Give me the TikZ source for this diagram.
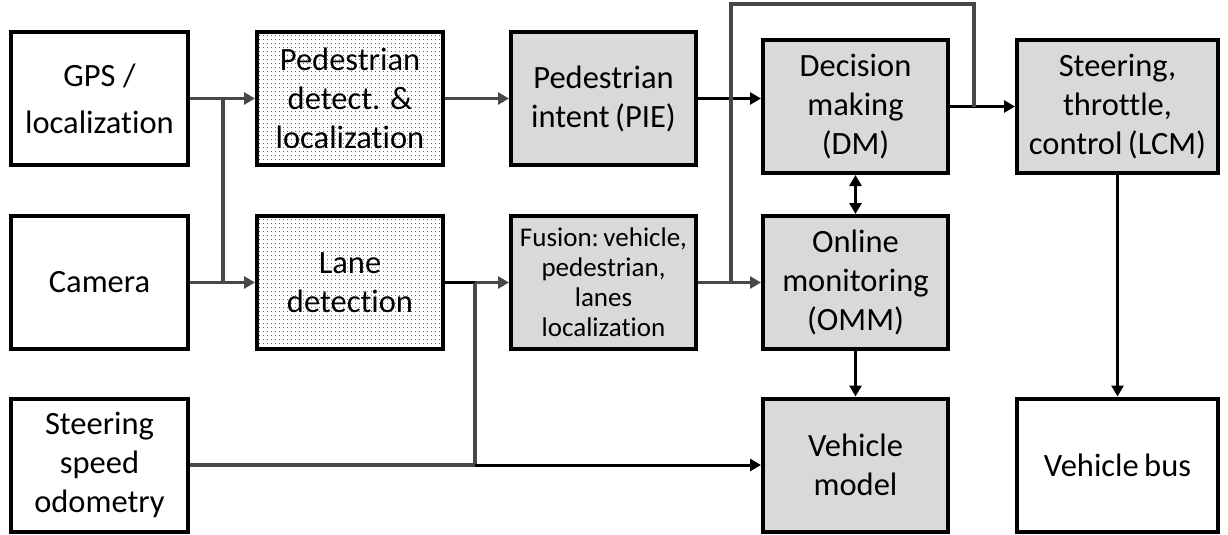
\documentclass[tikz,border=0pt]{standalone}
\usepackage{fontspec}
\setmainfont[Ligatures={NoCommon,NoContextual}]{Carlito}
\usetikzlibrary{arrows.meta,patterns.meta}
\definecolor{boxfill}{RGB}{217,217,217}
\definecolor{linegray}{RGB}{72,72,72}
\begin{document}
\begin{tikzpicture}[x=1pt,y=-1pt,
  blk/.style={draw=black, line width=4pt, align=center, inner sep=0pt,
     font=\fontsize{32.5}{39}\selectfont, text=black, minimum height=133pt},
  whitebox/.style={blk, fill=white},
  graybox/.style={blk, fill=boxfill},
  dotbox/.style={blk, pattern={Dots[distance=4pt,radius=0.6pt]}, pattern color=black!80},
  tip/.style={-{Triangle[length=11pt,width=12pt]}},
  glink/.style={draw=linegray, line width=3.2pt},
  blink/.style={draw=black, line width=3pt},
]
\useasboundingbox (0,0) rectangle (1228,535);

% column 1
\node[whitebox, minimum width=177pt, font=\fontsize{32.5}{47}\selectfont] (gps) at (99.5,98.5) {GPS /\\localization};
\node[whitebox, minimum width=177pt] (cam) at (99.5,282.5) {Camera};
\node[whitebox, minimum width=177pt] (steer) at (99.5,465) {Steering\\speed\\odometry};
% column 2
\node[dotbox, minimum width=186pt] (ped) at (350,98.5) {Pedestrian\\detect. \&\\localization};
\node[dotbox, minimum width=186pt] (lane) at (350,282.5) {Lane\\detection};
% column 3
\node[graybox, minimum width=185pt] (pie) at (603.5,98.5) {Pedestrian\\intent\,(PIE)};
\node[graybox, minimum width=185pt, font=\fontsize{27}{30}\selectfont] (fus) at (603.5,282.5) {Fusion:\,vehicle,\\pedestrian,\\lanes\\localization};
% column 4
\node[graybox, minimum width=185pt] (dm) at (855.5,106.5) {Decision\\making\\(DM)};
\node[graybox, minimum width=185pt] (omm) at (855.5,282.5) {Online\\monitoring\\(OMM)};
\node[graybox, minimum width=185pt] (vm) at (855.5,465) {Vehicle\\model};
% column 5
\node[graybox, minimum width=201pt] (lcm) at (1117.5,106.5) {Steering,\\throttle,\\control\,(LCM)};
\node[whitebox, minimum width=201pt] (bus) at (1117.5,465) {Vehicle\,bus};

% junction points
\coordinate (j1) at (223,98.5);
\coordinate (j2) at (223,282.5);
\coordinate (j3) at (475,282.5);
\coordinate (j4) at (475,465);
\coordinate (f1) at (974,106.5);
\coordinate (f2) at (974,4);
\coordinate (f3) at (731,4);
\coordinate (f4) at (731,282.5);

% left inputs
\draw[glink, tip] (gps.east) -- (ped.west);
\draw[glink, tip] (cam.east) -- (lane.west);
\draw[glink] (j1) -- (j2);
% pedestrian chain
\draw[glink, tip] (ped.east) -- (pie.west);
\draw[blink, tip] (pie.east) -- (pie.east -| dm.west);
\draw[blink, tip] (dm.east |- f1) -- (lcm.west |- f1);
% feedback loop
\draw[glink] (f1) -- (f2) -- (f3) -- (f4);
% lane / fusion
\draw[blink] (lane.east) -- (j3);
\draw[glink, tip] (j3) -- (fus.west);
\draw[glink] (j3) -- (j4);
\draw[glink] (steer.east |- j4) -- (j4);
\draw[blink, tip] (j4) -- (vm.west |- j4);
\draw[glink, tip] (fus.east) -- (omm.west);
% right side
\draw[blink, {Triangle[length=11pt,width=12pt]}-{Triangle[length=11pt,width=12pt]}] (dm.south) -- (omm.north);
\draw[blink, tip] (omm.south) -- (vm.north);
\draw[blink, tip] (lcm.south) -- (bus.north);
\end{tikzpicture}
\end{document}
